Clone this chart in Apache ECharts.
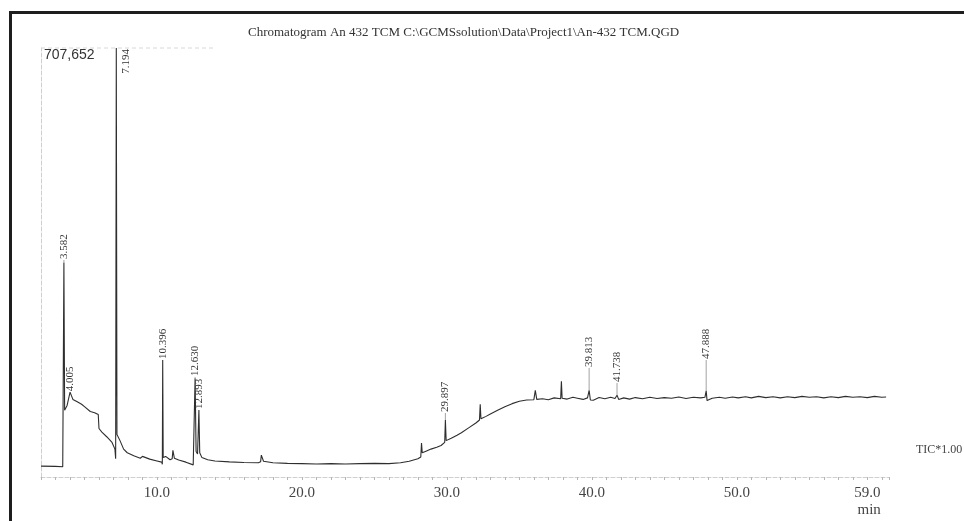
<!DOCTYPE html>
<html>
<head>
<meta charset="utf-8">
<script src="https://cdn.jsdelivr.net/npm/echarts@6.0.0/dist/echarts.min.js"></script>
<style>
  html, body { margin: 0; padding: 0; background: #fff; }
  #main { width: 964px; height: 521px; }
</style>
</head>
<body>
<div id="main"></div>
<script>
// chromatogram trace, [retention time (min), intensity]
var trace = [
  [2.0, 18000], [3.0, 17500], [3.5, 17000], [3.55, 19000], [3.58, 354000], [3.63, 110000],
  [3.8, 118000], [4.005, 140000], [4.2, 128000], [4.5, 124000], [4.8, 120000], [5.0, 116000],
  [5.4, 108000], [5.7, 106000], [5.95, 103000], [6.0, 80000], [6.2, 74000], [6.55, 66000],
  [6.9, 57000], [7.1, 46000], [7.15, 30000], [7.194, 707652], [7.24, 70000], [7.45, 60000],
  [7.7, 46000], [7.95, 40000], [8.4, 35000], [8.85, 31000], [9.0, 34000], [9.1, 31000],
  [9.5, 29500], [10.0, 26500], [10.33, 24500], [10.37, 21000], [10.396, 193000], [10.43, 32000],
  [10.6, 34000], [10.9, 28500], [11.05, 30000], [11.1, 44000], [11.2, 31000], [11.5, 28000],
  [12.0, 24500], [12.5, 20000], [12.58, 21000], [12.63, 163000], [12.7, 42000], [12.8, 38000],
  [12.893, 110500], [12.95, 40000], [13.1, 32000], [13.5, 28500], [14.0, 26500], [15.0, 25000],
  [16.0, 24000], [17.0, 23500], [17.15, 25000], [17.2, 36000], [17.35, 26000], [18.0, 23500],
  [19.0, 22500], [20.0, 22000], [21.0, 21500], [22.0, 22000], [23.0, 21500], [24.0, 22000],
  [25.0, 22500], [26.0, 22000], [26.8, 23500], [27.4, 26000], [28.0, 30000], [28.2, 33000],
  [28.25, 56000], [28.3, 40000], [28.6, 43000], [28.9, 46000], [29.3, 49000], [29.6, 52000],
  [29.85, 57000], [29.897, 94000], [29.95, 60000], [30.3, 64000], [30.7, 69000], [31.0, 73000],
  [31.5, 81000], [32.0, 89000], [32.25, 94000], [32.3, 120000], [32.35, 96000], [32.7, 100000],
  [33.0, 104000], [33.5, 110000], [34.0, 116000], [34.5, 121000], [35.0, 125000], [35.5, 127000],
  [36.0, 127500], [36.1, 143000], [36.2, 128000], [36.6, 129000], [37.0, 127500], [37.4, 130500],
  [37.85, 129000], [37.9, 158000], [37.95, 130000], [38.3, 128500], [38.7, 131500], [39.0, 130000],
  [39.4, 128000], [39.7, 130500], [39.813, 143000], [39.9, 127000], [40.1, 126500], [40.5, 131000],
  [40.9, 129000], [41.3, 131500], [41.6, 129500], [41.738, 135000], [41.85, 128000], [42.2, 130500],
  [42.6, 128500], [43.0, 131000], [43.5, 129000], [44.0, 131500], [44.5, 129500], [45.0, 131000],
  [45.5, 130000], [46.0, 132000], [46.5, 129500], [47.0, 131500], [47.5, 130500], [47.8, 131500],
  [47.888, 142000], [47.95, 126000], [48.3, 130000], [48.8, 131500], [49.2, 130000], [49.7, 132000],
  [50.1, 130500], [50.6, 132500], [51.0, 130500], [51.5, 133000], [52.0, 131000], [52.5, 132500],
  [53.0, 130500], [53.5, 132500], [54.0, 131000], [54.5, 133000], [55.0, 131500], [55.5, 132500],
  [56.0, 130500], [56.5, 132500], [57.0, 131000], [57.5, 133000], [58.0, 131500], [58.5, 132500],
  [59.0, 131000], [59.5, 133000], [60.0, 131500], [60.3, 132000]
];

// peak annotations
var peakTimes = [3.582, 4.005, 7.194, 10.396, 12.630, 12.893, 29.897, 39.813, 41.738, 47.888];
var peakNames = ['3.582', '4.005', '7.194', '10.396', '12.630', '12.893', '29.897', '39.813', '41.738', '47.888'];
var peakTops = [354000, 140000, 707652, 193000, 163000, 110500, 94000, 143000, 135000, 142000];
var peakLabelAt = [358000, 140000, 707652, 193000, 165000, 110500, 105600, 180000, 155000, 193000];

var xTickLabels = [10, 20, 30, 40, 50, 59];
var yMax = 707652;
var titleText = 'Chromatogram An 432 TCM C:\\GCMSsolution\\Data\\Project1\\An-432 TCM.QGD';
var scaleText = 'TIC*1.00';

var serif = '"Liberation Serif", "DejaVu Serif", serif';

var chart = echarts.init(document.getElementById('main'), null, { renderer: 'canvas' });

var option = {
  animation: false,
  backgroundColor: '#fff',
  title: {
    text: titleText,
    left: 243,
    top: 21,
    textStyle: { fontFamily: serif, fontSize: 13, fontWeight: 'normal', color: '#333' }
  },
  grid: { left: 41, right: 75, top: 48, bottom: 44 },
  xAxis: {
    type: 'value',
    min: 2,
    max: 60.5,
    interval: 1,
    splitLine: { show: false },
    axisLine: { lineStyle: { color: '#cfcfcf', type: 'dashed', width: 1 } },
    axisTick: { length: 3, lineStyle: { color: '#b5b5b5' } },
    axisLabel: {
      margin: 8,
      fontFamily: serif,
      fontSize: 15,
      color: '#444',
      lineHeight: 17,
      formatter: function (v) {
        if (xTickLabels.indexOf(Math.round(v * 10) / 10) < 0) return '';
        var s = v.toFixed(1);
        if (v === xTickLabels[xTickLabels.length - 1]) s += '\n min';
        return s;
      }
    }
  },
  yAxis: {
    type: 'value',
    min: 0,
    max: yMax,
    interval: yMax,
    splitLine: { show: false },
    axisLine: { show: true, lineStyle: { color: '#cfcfcf', type: 'dashed' } },
    axisTick: { show: false },
    axisLabel: {
      inside: true,
      margin: 3,
      verticalAlign: 'top',
      fontFamily: '"Liberation Sans", Arial, sans-serif',
      fontSize: 14,
      color: '#333',
      formatter: function (v) {
        return v === yMax ? v.toLocaleString('en-US') : '';
      }
    }
  },
  series: [
    {
      type: 'line',
      data: trace,
      showSymbol: false,
      clip: true,
      lineStyle: { color: '#2e2e2e', width: 1.1 },
      z: 3
    },
    {
      type: 'custom',
      data: peakTimes.map(function (t, i) { return [t, peakTops[i], peakLabelAt[i]]; }),
      z: 4,
      renderItem: function (params, api) {
        var i = params.dataIndex;
        var top = api.coord([api.value(0), api.value(1)]);
        var lab = api.coord([api.value(0), api.value(2)]);
        var children = [];
        if (api.value(1) >= yMax) {
          // clipped peak: label sits beside the top of the line
          children.push({
            type: 'text',
            x: top[0] + 10,
            y: top[1] + 1,
            rotation: Math.PI / 2,
            style: {
              text: peakNames[i], fontFamily: serif, fontSize: 11, fill: '#333',
              align: 'right', verticalAlign: 'middle'
            }
          });
          return { type: 'group', children: children };
        }
        if (top[1] - lab[1] > 1) {
          children.push({
            type: 'line',
            shape: { x1: top[0], y1: top[1], x2: lab[0], y2: lab[1] },
            style: { stroke: '#8a8a8a', lineWidth: 0.8 }
          });
        }
        children.push({
          type: 'text',
          x: lab[0],
          y: lab[1] - 1,
          rotation: Math.PI / 2,
          style: {
            text: peakNames[i], fontFamily: serif, fontSize: 11, fill: '#333',
            align: 'left', verticalAlign: 'middle'
          }
        });
        return { type: 'group', children: children };
      }
    }
  ],
  graphic: [
    // page frame (left and top edges of the scanned border)
    { type: 'rect', left: 9, top: 11, shape: { width: 3, height: 510 }, style: { fill: '#1e1e1e' } },
    { type: 'rect', left: 9, top: 11, shape: { width: 955, height: 3 }, style: { fill: '#1e1e1e' } },
    // faint dashed line along the top of the plot
    { type: 'line', shape: { x1: 41, y1: 48, x2: 215, y2: 48 }, style: { stroke: '#d8d8d8', lineDash: [4, 3], lineWidth: 1 } },
    {
      type: 'text',
      left: 916,
      top: 444,
      style: { text: scaleText, fontFamily: serif, fontSize: 12, fill: '#444' }
    }
  ]
};

chart.setOption(option);
</script>
</body>
</html>
